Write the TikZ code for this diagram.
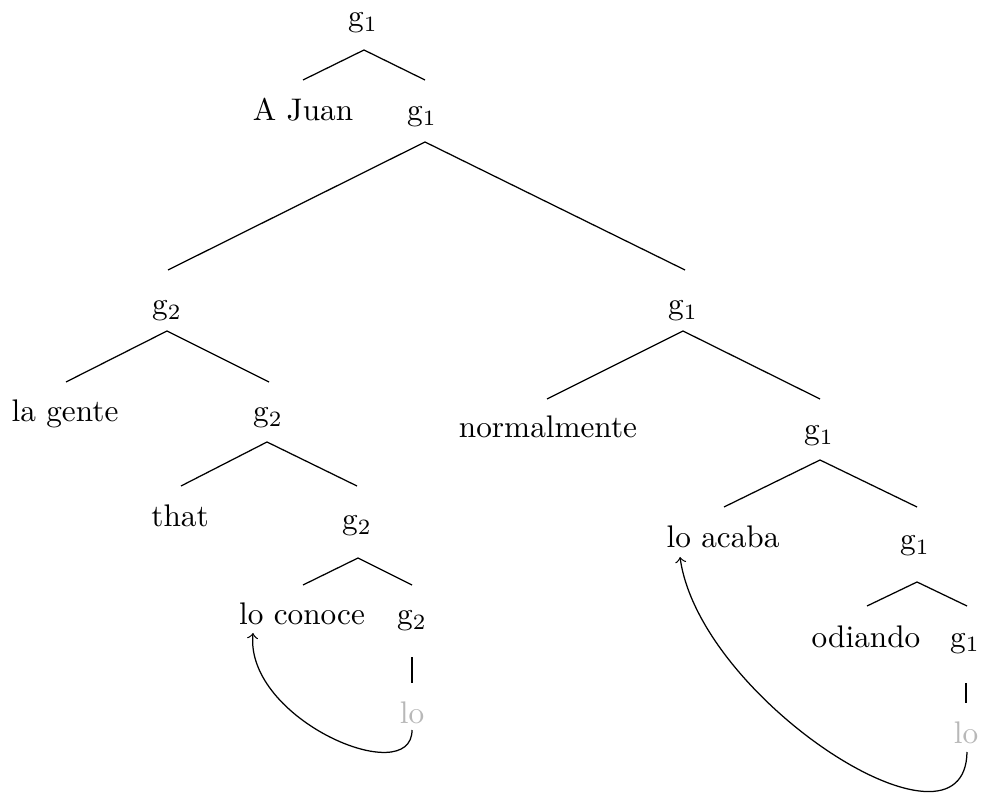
\documentclass[tikz,border=0pt]{standalone}
\usetikzlibrary{calc}
\begin{document}
\begin{tikzpicture}[x=0.32pt,y=-0.32pt,
  lbl/.style={anchor=base,inner sep=0pt,font=\normalsize},
  trace/.style={lbl,text=black!28},
  edge/.style={draw=black,line width=0.4pt},
  mv/.style={draw=black,line width=0.4pt,->}]
\useasboundingbox (0,0) rectangle (983,796);
\node[lbl] (r) at (363,27) {g$_1$};
\node[lbl] (aj) at (303,121) {A Juan};
\node[lbl] (n1) at (422,121) {g$_1$};
\node[lbl] (n2) at (167,315) {g$_2$};
\node[lbl] (n3) at (683,315) {g$_1$};
\node[lbl] (lg) at (65,422) {la gente};
\node[lbl] (n4) at (268,422) {g$_2$};
\node[lbl] (nm) at (548,438) {normalmente};
\node[lbl] (n5) at (819,440) {g$_1$};
\node[lbl] (th) at (180,527) {that};
\node[lbl] (n6) at (357,530) {g$_2$};
\node[lbl] (la) at (723,548) {lo acaba};
\node[lbl] (n7) at (915,550) {g$_1$};
\node[lbl] (lc) at (302,625) {lo conoce};
\node[lbl] (n8) at (412,625) {g$_2$};
\node[lbl] (od) at (866,647) {odiando};
\node[lbl] (n9) at (965,647) {g$_1$};
\node[trace] (lo1) at (412,723) {lo};
\node[trace] (lo2) at (966,743) {lo};
% branches
\draw[edge] ($(aj.base)+(0,-41)$) -- ($(r.base)+(1,23)$) -- ($(n1.base)+(3,-41)$);
\draw[edge] ($(n2.base)+(1,-45)$) -- ($(n1.base)+(3,21)$) -- ($(n3.base)+(2,-45)$);
\draw[edge] ($(lg.base)+(1,-40)$) -- ($(n2.base)+(0,16)$) -- ($(n4.base)+(1,-40)$);
\draw[edge] ($(nm.base)+(-1,-39)$) -- ($(n3.base)+(0,16)$) -- ($(n5.base)+(1,-41)$);
\draw[edge] ($(th.base)+(1,-41)$) -- ($(n4.base)+(-1,20)$) -- ($(n6.base)+(0,-44)$);
\draw[edge] ($(la.base)+(1,-41)$) -- ($(n5.base)+(1,20)$) -- ($(n7.base)+(2,-43)$);
\draw[edge] ($(lc.base)+(1,-40)$) -- ($(n6.base)+(1,28)$) -- ($(n8.base)+(0,-40)$);
\draw[edge] ($(od.base)+(1,-41)$) -- ($(n7.base)+(2,32)$) -- ($(n9.base)+(2,-41)$);
\draw[edge] ($(n8.base)+(0,32)$) -- ($(lo1.base)+(0,-40)$);
\draw[edge] ($(n9.base)+(1,36)$) -- ($(lo2.base)+(0,-40)$);
% movement arrows
\draw[mv] ($(lo1.base)+(0,7)$) .. controls +(0,60) and +(-8,87) .. ($(lc.base)+(-49,8)$);
\draw[mv] ($(lo2.base)+(1,9)$) .. controls +(-2,118) and +(20,143) .. ($(la.base)+(-43,9)$);
\end{tikzpicture}
\end{document}
